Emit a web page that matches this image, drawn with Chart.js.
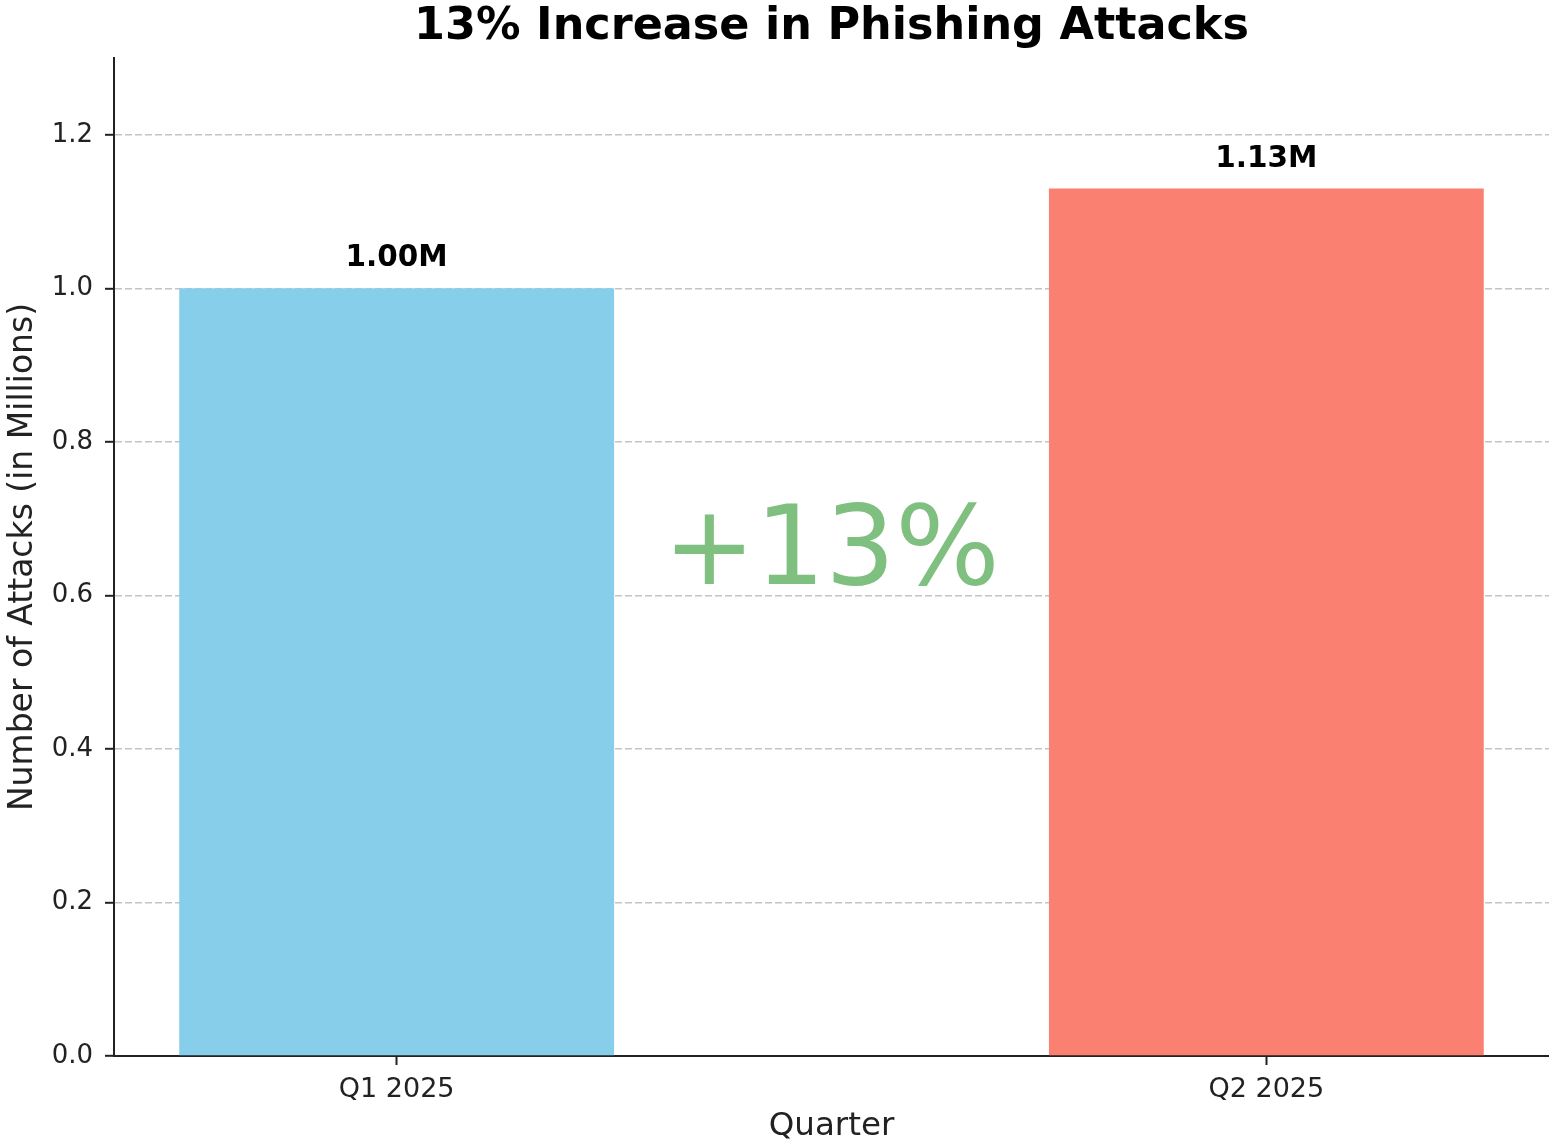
<!DOCTYPE html>
<html>
<head>
<meta charset="utf-8">
<script src="https://cdn.jsdelivr.net/npm/chart.js@4/dist/chart.umd.min.js"></script>
<style>
  html, body { margin: 0; padding: 0; background: #fff; }
  #wrap { width: 1549px; height: 1146px; }
</style>
</head>
<body>
<div id="wrap"><canvas id="phishChart"></canvas></div>
<script>
const quarters = ['Q1 2025', 'Q2 2025'];
const attacks = [1.00, 1.13];
const barColors = ['#87CEEB', '#FA8072'];
const yTicks = [0, 0.2, 0.4, 0.6, 0.8, 1.0, 1.2];
const highlightText = '+13%';
const highlightPos = { x: 0.5, y: 0.652 };

(function() {
    const ctx = document.getElementById('phishChart');
    const font = "'DejaVu Sans', sans-serif";

    // value labels above bars + the big green percentage
    const annotate = {
        id: 'annotate',
        afterDatasetsDraw(chart) {
            const c = chart.ctx;
            const meta = chart.getDatasetMeta(0);
            c.save();
            c.fillStyle = '#000';
            c.font = 'bold 29.5px ' + font;
            c.textAlign = 'center';
            c.textBaseline = 'alphabetic';
            meta.data.forEach((bar, i) => {
                c.fillText(attacks[i].toFixed(2) + 'M', bar.x, bar.y - 22);
            });
            const xs = chart.scales.x, ys = chart.scales.y;
            c.fillStyle = 'rgba(0,128,0,0.5)';
            c.font = '110px ' + font;
            c.textBaseline = 'middle';
            c.fillText(highlightText, xs.getPixelForValue(highlightPos.x), ys.getPixelForValue(highlightPos.y));
            c.restore();
        }
    };

    new Chart(ctx, {
        type: 'bar',
        data: {
            datasets: [{
                data: attacks.map((v, i) => ({ x: i, y: v })),
                backgroundColor: barColors,
                borderWidth: 0,
                barPercentage: 0.5,
                categoryPercentage: 1.0
            }]
        },
        options: {
            responsive: true,
            maintainAspectRatio: false,
            animation: false,
            layout: { padding: 0 },
            scales: {
                x: {
                    type: 'linear',
                    min: -0.325,
                    max: 1.325,
                    offset: false,
                    afterBuildTicks: (s) => { s.ticks = quarters.map((q, i) => ({ value: i })); },
                    afterFit: (s) => { s.height = 90; },
                    ticks: {
                        callback: (v) => quarters[v],
                        font: { family: font, size: 27 },
                        color: '#222',
                        padding: 9,
                        maxRotation: 0
                    },
                    grid: {
                        display: true,
                        offset: false,
                        drawOnChartArea: false,
                        tickLength: 9,
                        tickColor: '#222',
                        tickWidth: 2
                    },
                    border: { color: '#222', width: 2 },
                    title: {
                        display: true,
                        text: 'Quarter',
                        font: { family: font, size: 32.5 },
                        color: '#222',
                        padding: { top: 0, bottom: 0 }
                    }
                },
                y: {
                    min: 0,
                    max: 1.3,
                    afterBuildTicks: (s) => { s.ticks = yTicks.map(v => ({ value: v })); },
                    afterFit: (s) => { s.width = 114; },
                    ticks: {
                        callback: (v) => v.toFixed(1),
                        font: { family: font, size: 26 },
                        color: '#222',
                        padding: 12
                    },
                    grid: {
                        color: 'rgba(176,176,176,0.75)',
                        lineWidth: 1.6,
                        tickLength: 9,
                        tickColor: '#222',
                        tickWidth: 2,
                        tickBorderDash: []
                    },
                    border: { color: '#222', width: 2, dash: [7, 3] },
                    title: {
                        display: true,
                        text: 'Number of Attacks (in Millions)',
                        font: { family: font, size: 33 },
                        color: '#222',
                        padding: { top: 4, bottom: 0 }
                    }
                }
            },
            plugins: {
                legend: { display: false },
                tooltip: { enabled: false },
                title: {
                    display: true,
                    fullSize: false,
                    text: '13% Increase in Phishing Attacks',
                    font: { family: font, size: 44.5, weight: 'bold' },
                    color: '#000',
                    padding: { top: 1, bottom: 3.6 }
                }
            }
        },
        plugins: [annotate]
    });
})();
</script>
</body>
</html>
